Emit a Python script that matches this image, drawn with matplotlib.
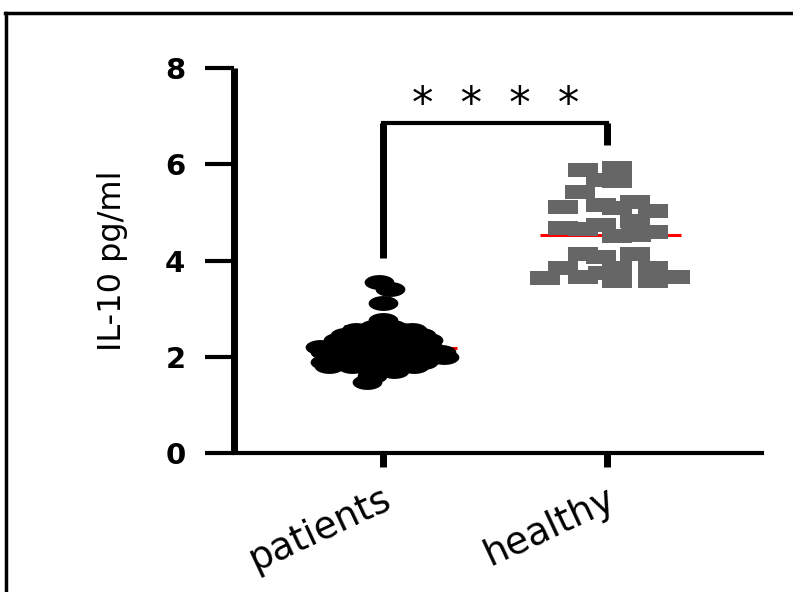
import matplotlib
matplotlib.use('Agg')
import matplotlib.pyplot as plt
import numpy as np
from matplotlib.transforms import ScaledTranslation
from matplotlib.lines import Line2D

# ---------------- data ----------------
groups = ['patients', 'healthy']

patients_values = [3.55, 3.40, 3.12, 2.77,
                   2.62, 2.62,
                   2.55, 2.55, 2.55,
                   2.45, 2.45, 2.45, 2.45, 2.45,
                   2.35, 2.35, 2.35, 2.35, 2.35,
                   2.20, 2.20, 2.20, 2.20, 2.20, 2.20,
                   2.10, 2.10, 2.10, 2.10, 2.10, 2.10, 2.10,
                   2.00, 2.00, 2.00, 2.00, 2.00, 2.00, 2.00,
                   1.90, 1.90, 1.90, 1.90, 1.90, 1.90,
                   1.80, 1.80, 1.80, 1.80, 1.80,
                   1.70, 1.70, 1.60, 1.47]
patients_offsets = [-0.02, 0.03, 0.0, 0.0,
                    -0.04, 0.04,
                    -0.12, 0.08, 0.13,
                    -0.17, -0.08, 0.0, 0.08, 0.17,
                    -0.2, -0.1, 0.0, 0.1, 0.2,
                    -0.28, -0.18, -0.08, 0.02, 0.12, 0.2,
                    -0.26, -0.17, -0.08, 0.02, 0.12, 0.2, 0.26,
                    -0.24, -0.15, -0.05, 0.05, 0.15, 0.22, 0.27,
                    -0.26, -0.18, -0.08, 0.02, 0.1, 0.18,
                    -0.24, -0.14, -0.04, 0.06, 0.14,
                    -0.05, 0.05, -0.05, -0.07]

healthy_values = [5.88, 5.93, 5.68, 5.65, 5.43,
                  5.11, 5.16, 5.09, 5.22, 5.03,
                  4.82, 4.74, 4.68, 4.66, 4.51, 4.59, 4.53,
                  4.14, 4.07, 4.14,
                  3.85, 3.85, 3.85,
                  3.64, 3.66, 3.58, 3.58, 3.66, 3.74]
healthy_offsets = [-0.11, 0.045, -0.03, 0.045, -0.12,
                   -0.196, -0.03, 0.045, 0.125, 0.205,
                   0.125, -0.03, -0.196, -0.107, 0.045, 0.205, 0.13,
                   -0.11, -0.03, 0.125,
                   -0.196, 0.045, 0.205,
                   -0.277, -0.11, 0.045, 0.205, 0.3, -0.02]

medians = [2.18, 4.53]
patients_mean = 2.2
patients_sd = 0.44
y_ticks = [0, 2, 4, 6, 8]
y_label = 'IL-10 pg/ml'
sig_label = '*  *  *  *'
bracket_top = 6.86
bracket_left_bottom = 4.05
bracket_right_bottom = 6.4

# ---------------- figure ----------------
W, H = 793, 592
fig = plt.figure(figsize=(W / 100, H / 100), dpi=100)
ax = fig.add_axes([234 / W, 1 - 453 / H, (762 - 234) / W, (453 - 68) / H])

# markers stretched horizontally (2:1)
t = np.linspace(0, 2 * np.pi, 41)
ellipse = np.column_stack([np.cos(t), 0.5 * np.sin(t)])
rect = np.array([[-1, -0.5], [1, -0.5], [1, 0.5], [-1, 0.5], [-1, -0.5]])

x_pat = 0 + np.array(patients_offsets)
x_hea = 1 + np.array(healthy_offsets)

# medians (red), under the points
for i, m in enumerate(medians):
    ax.plot([i - 0.3, i + 0.33], [m, m], color='red', lw=2.2, zorder=2,
            solid_capstyle='butt')

# mean +- SD (patients)
ax.errorbar([0], [patients_mean], yerr=[patients_sd], fmt='none',
            ecolor='black', elinewidth=2, capsize=28, capthick=2, zorder=2)

ax.scatter(x_pat, patients_values, marker=ellipse, s=460, color='black',
           linewidths=0, zorder=3, clip_on=False)
ax.scatter(x_hea, healthy_values, marker=rect, s=440, color='#666666',
           linewidths=0, zorder=3, clip_on=False)

# significance bracket
ax.plot([0, 1], [bracket_top, bracket_top], color='black', lw=3,
        solid_capstyle='projecting', zorder=4)
ax.plot([0, 0], [bracket_left_bottom, bracket_top], color='black', lw=5,
        solid_capstyle='butt', zorder=4)
ax.plot([1, 1], [bracket_right_bottom, bracket_top], color='black', lw=5,
        solid_capstyle='butt', zorder=4)
ax.text(0.5, bracket_top + 0.12, sig_label, ha='center', va='baseline',
        fontsize=31, family='DejaVu Sans', color='black')

# axes styling
ax.set_xlim(-0.665, 1.69)
ax.set_ylim(0, 8)
for s in ['top', 'right']:
    ax.spines[s].set_visible(False)
ax.spines['left'].set_linewidth(5)
ax.spines['bottom'].set_linewidth(3)
ax.spines['left'].set_capstyle('butt')

ax.set_yticks(y_ticks)
ax.set_yticklabels([str(v) for v in y_ticks], fontsize=21,
                   fontweight='bold', family='DejaVu Sans')
ax.tick_params(axis='y', direction='out', length=21, width=3, pad=14)

ax.set_xticks([0, 1])
ax.set_xticklabels(groups, fontsize=27, family='DejaVu Sans',
                   rotation=25, ha='right', rotation_mode='anchor')
ax.tick_params(axis='x', direction='out', length=10, width=5, pad=10)
for lab in ax.get_xticklabels():
    lab.set_transform(lab.get_transform() +
                      ScaledTranslation(-0.01, 0, fig.dpi_scale_trans))

ax.set_ylabel(y_label, fontsize=23, family='DejaVu Sans')
ax.yaxis.set_label_coords(-0.2, 0.5)

# outer frame (top and left edges visible)
fig.add_artist(Line2D([5 / W, 1], [1 - 13 / H, 1 - 13 / H], color='black',
                      lw=2.5, transform=fig.transFigure))
fig.add_artist(Line2D([6 / W, 6 / W], [0, 1 - 13 / H], color='black',
                      lw=2.5, transform=fig.transFigure))

fig.savefig('out.png', dpi=100)
